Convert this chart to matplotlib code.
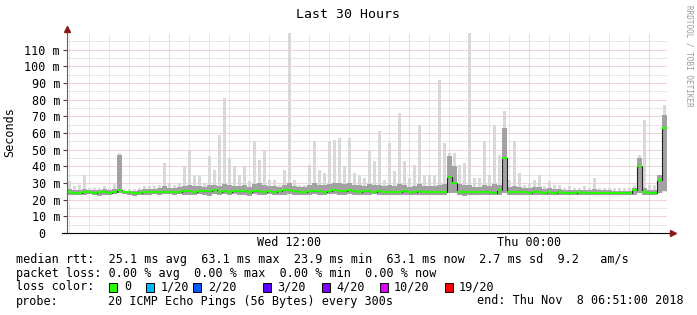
import matplotlib
matplotlib.use('Agg')
import matplotlib.pyplot as plt
import matplotlib.patches as mpatches
import numpy as np

# 15 minute bins, first bin starts Wed 00:54 (hours since Wed 00:00)
start_hour = 0.9
step_hours = 0.25

median = [
    24.5, 24.3, 24.3, 24.5, 24.4, 24.3, 24.5, 24.4, 24.3, 24.6,
    26.0, 24.6, 24.4, 24.2, 24.3, 24.5, 24.6, 24.4, 24.8, 24.7,
    24.9, 24.6, 24.9, 25.2, 25.0, 24.8, 25.3, 25.4, 25.1, 25.6,
    24.9, 25.2, 24.9, 25.3, 25.0, 25.4, 24.8, 25.5, 25.1, 24.7,
    25.3, 24.9, 25.0, 25.6, 26.0, 25.2, 24.8, 24.7, 25.0, 25.4,
    25.1, 24.9, 25.5, 25.7, 25.2, 25.0, 25.6, 25.3, 24.9, 25.1,
    25.3, 24.7, 25.5, 24.9, 24.6, 24.8, 24.7, 25.0, 24.8, 24.6,
    25.1, 24.9, 24.7, 24.8, 24.6, 24.9, 33.5, 30.0, 24.6, 24.4,
    24.5, 24.6, 24.5, 24.4, 24.7, 24.3, 25.6, 45.0, 24.8, 24.6,
    24.4, 24.5, 24.3, 24.6, 24.4, 24.3, 24.5, 24.3, 24.4, 24.2,
    24.3, 24.2, 24.4, 24.2, 24.3, 24.2, 24.1, 24.3, 24.2, 24.0,
    24.2, 24.1, 24.3, 26.0, 40.0, 24.6, 24.2, 24.3, 32.0, 63.1,
]
ping_min = [
    23, 23, 22.8, 23, 23.2, 23, 22.5, 23, 23, 23.2,
    24, 23.2, 22.8, 22.5, 22.6, 23, 23, 23.2, 23, 23.5,
    23.2, 23, 23.5, 23, 22.8, 23, 23.4, 23, 22.5, 23.5,
    23, 23.5, 23, 23.2, 22.8, 23, 22.5, 23.2, 23, 22.8,
    23.4, 23, 22.8, 23, 23.5, 23, 22.6, 22.8, 23, 23.2,
    22.8, 23, 23.4, 23.5, 23, 22.8, 23.2, 23, 22.6, 23,
    23, 23.2, 22.8, 22.6, 23, 22.8, 23, 22.8, 23, 22.6,
    23, 22.8, 22.6, 23, 22.8, 23, 24, 24, 22.8, 22.5,
    23, 22.8, 23, 22.6, 23, 22.8, 23, 24, 22.8, 23,
    22.6, 22.8, 23, 22.6, 22.8, 23, 22.8, 22.6, 23, 22.8,
    23, 22.8, 23, 22.6, 22.8, 23, 23, 22.8, 23, 22.8,
    23, 22.8, 23, 23, 24, 23, 22.8, 23, 24, 25,
]
# top of the dense (dark) smoke
ping_dense = [
    26.5, 26, 26, 26.5, 26, 26, 26, 26.5, 26, 26.5,
    47, 25.5, 25.5, 25.5, 26, 26.5, 26.5, 26.5, 27, 28,
    27, 27, 27.5, 28, 29, 28, 28.5, 27.5, 29, 29,
    28.5, 29.5, 29, 28, 28, 29, 27.5, 29.5, 30, 29,
    28, 28, 27.5, 29, 30, 28, 27.5, 27.5, 29, 30,
    29, 29, 29.5, 30, 30, 29.5, 30, 29, 29, 28,
    29.5, 29, 29, 28, 29, 28.5, 29.5, 29, 27.5, 28.5,
    29.5, 28, 28, 28, 29, 29.5, 46, 40, 29.5, 29,
    29, 27.5, 27.5, 29, 28, 29.5, 29, 63, 27.5, 28,
    27.5, 27, 27, 27.5, 27.5, 26.5, 27, 26.5, 26.5, 26,
    26, 26, 26, 26, 26, 26.5, 26, 26, 26, 25.5,
    25.5, 25.5, 25.5, 27, 45, 27, 26, 26, 35, 71,
]
ping_max = [
    31, 28, 29, 35, 27, 27, 27, 28, 27, 30,
    48, 26.5, 26.5, 26.5, 27, 28, 28, 28, 29, 42,
    30, 29, 30, 40, 50, 35, 35, 30, 46, 38,
    59, 81, 45, 40, 35, 40, 31, 55, 44, 50,
    32, 32, 29, 38, 120, 32, 29, 29, 41, 55,
    38, 36, 55, 56, 57, 40, 57, 36, 35, 33,
    50, 43, 61, 32, 54, 37, 72, 43, 33, 41,
    65, 35, 35, 35, 92, 54, 48, 48, 41, 42,
    120, 33, 33, 55, 35, 65, 47, 73, 32, 55,
    36, 29, 30, 32, 35, 28, 31, 29, 29, 27,
    28, 27, 27, 28, 27, 33, 27, 27, 27, 27,
    27, 27, 27, 28, 47, 68, 29, 29, 35, 77,
]

y_ticks = [0, 10, 20, 30, 40, 50, 60, 70, 80, 90, 100, 110]
x_labels = {12: 'Wed 12:00', 24: 'Thu 00:00'}

loss_labels = ['0', '1/20', '2/20', '3/20', '4/20', '10/20', '19/20']
loss_colors = ['#26ff00', '#00b8ff', '#0059ff', '#5e00ff', '#7e00ff', '#dd00ff', '#ff0000']

rtt_line = 'median rtt:  25.1 ms avg  63.1 ms max  23.9 ms min  63.1 ms now  2.7 ms sd  9.2   am/s'
loss_line = 'packet loss: 0.00 % avg  0.00 % max  0.00 % min  0.00 % now'
probe_text = '20 ICMP Echo Pings (56 Bytes) every 300s'
end_text = 'end: Thu Nov  8 06:51:00 2018'

plt.rcParams['font.family'] = 'DejaVu Sans Mono'
W, H = 697, 315
FS = 8.5


def px(x, y):
    return x / W, 1 - y / H


fig = plt.figure(figsize=(W / 100, H / 100), dpi=100)
ax = fig.add_axes([67 / W, 82 / H, 600 / W, 200 / H])

edges = start_hour + step_hours * np.arange(len(median) + 1)
centers = edges[:-1] + step_hours / 2
x0, x1 = start_hour, start_hour + 30
ax.set_xlim(x0, x1)
ax.set_ylim(0, 120)

# grid
dots = (0, (1, 1))
for h in range(1, 31):
    c = '#e4a9a9' if h % 6 == 0 else '#d0d0d0'
    ax.axvline(h, color=c, lw=0.72, ls=dots, zorder=0)
for v in range(5, 120, 5):
    c = '#e4a9a9' if v % 10 == 0 else '#d0d0d0'
    ax.axhline(v, color=c, lw=0.72, ls=dots, zorder=0)

# smoke: sparse outliers as narrow columns, dense part as continuous band
ax.bar(centers, np.subtract(ping_max, ping_min), bottom=ping_min, width=step_hours * 0.6,
       color='#d9d9d9', lw=0, zorder=1)
ax.stairs(ping_dense, edges, baseline=ping_min, fill=True, color='#a2a2a2', lw=0, zorder=2)
# median
ax.stairs(median, edges, baseline=None, color='#202020', lw=0.8, zorder=3)
ax.hlines(median, edges[:-1], edges[1:], color=loss_colors[0], lw=1.5, zorder=4)

for s in ax.spines.values():
    s.set_visible(False)

ax.set_yticks(y_ticks)
ax.set_yticklabels([f'{v} m' if v else '0\u00a0\u00a0' for v in y_ticks], fontsize=FS)
ax.tick_params(axis='y', length=3, width=0.8, color='#404040', pad=2)
ax.set_xticks(list(x_labels.keys()))
ax.set_xticklabels(list(x_labels.values()), fontsize=FS)
ax.tick_params(axis='x', length=0, pad=2.5)

# axes with arrows
ax.plot([0, 0], [0, 1.015], transform=ax.transAxes, color='#606060', lw=0.8, clip_on=False, zorder=5)
ax.plot([-5 / 600, 1.008], [0, 0], transform=ax.transAxes, color='black', lw=0.8, clip_on=False, zorder=5)
ax.plot([0], [1.02], transform=ax.transAxes, marker='^', ms=4, color='#8b1a1a', clip_on=False, zorder=6)
ax.plot([1.01], [0], transform=ax.transAxes, marker='>', ms=4, color='#8b1a1a', clip_on=False, zorder=6)

fig.text(*px(348, 14), 'Last 30 Hours', fontsize=9.5, ha='center', va='center')
fig.text(*px(10, 132), 'Seconds', fontsize=FS, rotation=90, ha='center', va='center')
fig.text(*px(689, 5), 'RRDTOOL / TOBI OETIKER', fontsize=5.5, color='#999999',
         rotation=-90, ha='center', va='top')

fig.text(*px(16, 259), rtt_line, fontsize=FS, va='center')
fig.text(*px(16, 273), loss_line, fontsize=FS, va='center')
fig.text(*px(16, 287), 'loss color:', fontsize=FS, va='center')
box_x = [108.6, 146, 193, 263, 322, 380, 445]
lab_x = [124, 161, 208, 277.5, 336, 394, 459]
for bx, lx, lab, col in zip(box_x, lab_x, loss_labels, loss_colors):
    fig.patches.append(mpatches.Rectangle(px(bx, 291.5), 8 / W, 9 / H, transform=fig.transFigure,
                                          facecolor=col, edgecolor='black', lw=0.7))
    fig.text(*px(lx, 287), lab, fontsize=FS, va='center')
fig.text(*px(16, 301), 'probe:', fontsize=FS, va='center')
fig.text(*px(108, 301), probe_text, fontsize=FS, va='center')
fig.text(*px(684, 301), end_text, fontsize=FS, va='center', ha='right')

fig.savefig('out.png', dpi=100, facecolor='white')
